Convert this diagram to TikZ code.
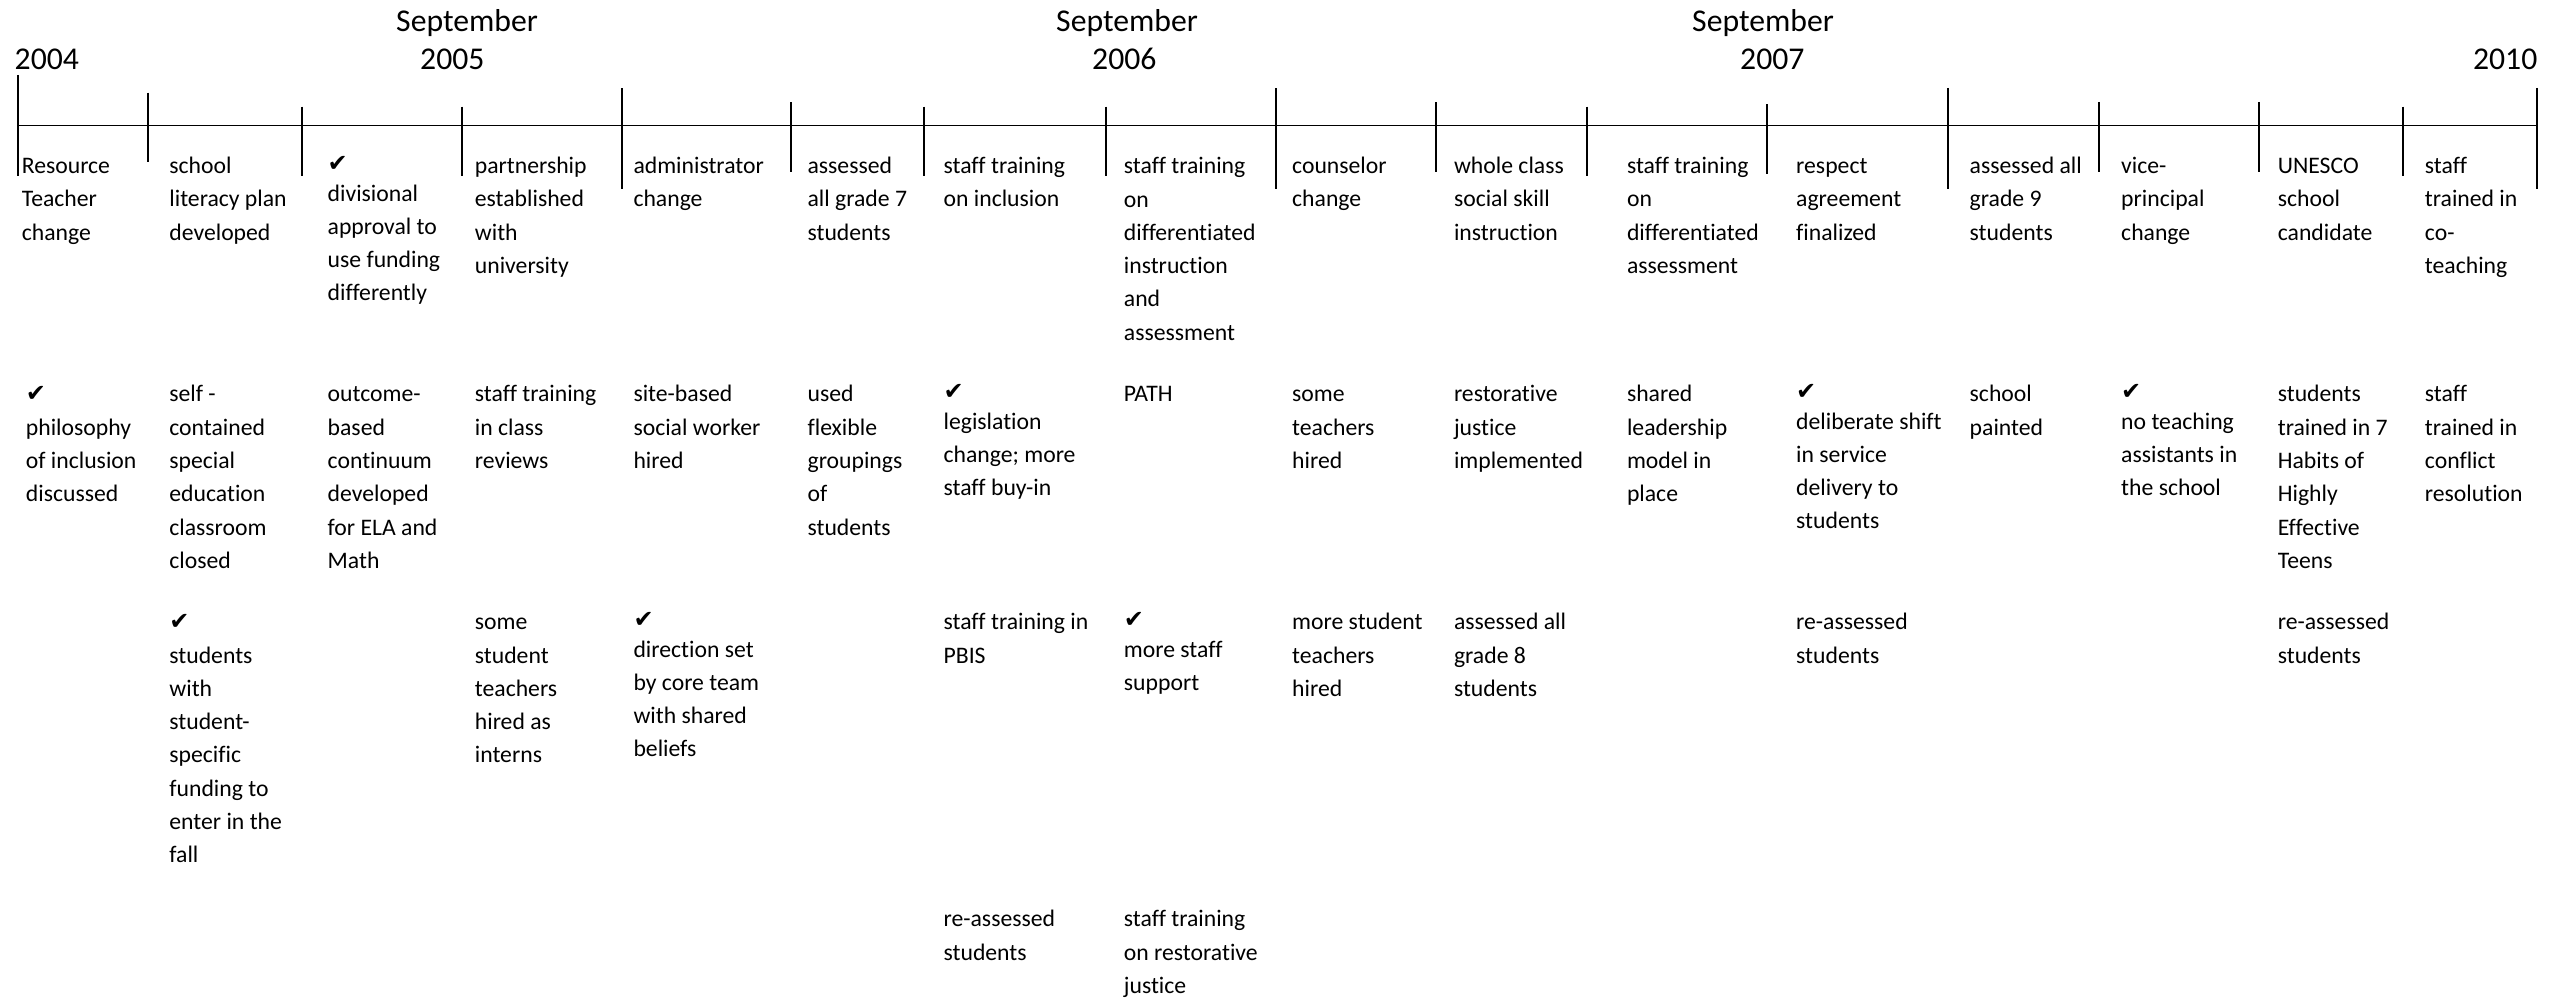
\documentclass[tikz,border=0pt]{standalone}
\usepackage{fontspec}
\setmainfont{Carlito}[Ligatures=NoCommon]
\newfontfamily\ckfont{DejaVu Sans}
\newcommand\evtfont{\fontsize{23.7}{33.3}\selectfont}
\newcommand\yrfont{\fontsize{31.7}{38.5}\selectfont}
\newcommand\tick{{\ckfont\fontsize{24}{33.3}\selectfont ✔}}
\newcommand\ck{\strut\tick\\[-3.5pt]}
\newcommand\ckf{\strut\tick\\}
\begin{document}
\begin{tikzpicture}[x=1pt,y=-1pt,
  evt/.style={anchor=north west,align=left,inner sep=0pt,font=\evtfont,yshift=23.31pt},
  yr/.style={anchor=north west,align=left,inner sep=0pt,font=\yrfont,yshift=26.95pt},
  yrs/.style={anchor=base west,inner sep=0pt,font=\yrfont},
  axis/.style={line width=1.8pt},
  tickline/.style={line width=1.4pt}]
\fill[white] (0,0) rectangle (2569,1000);
\useasboundingbox (0,0) rectangle (2569,1000);
% axis
\coordinate (a0) at (18,125.5);
\coordinate (a1) at (2537,125.5);
\draw[axis] (a0) -- (a1);
\foreach \x/\t/\b in {18/75/176,148/92.7/162.3,302/106.7/176,462/106.7/176,622/88.3/189.3,
  791/102.3/171.7,924/106.7/176,1106/106.7/176,1276/88.3/189.3,1436/102.3/171.7,
  1587/106.7/176,1767/104.3/174,1948/88/189,2099/102/172,2259/102/172,2403/106.7/176,2537/88/189}
  \draw[tickline] (\x,\t) -- (\x,\b);
% year labels
\node[yrs] (y2004) at (14.5,69.5) {2004};
\node[yr] (s2005) at (396,31) {\strut September\\\hspace*{24pt}2005};
\node[yr] (s2006) at (1056,31) {\strut September\\\hspace*{36pt}2006};
\node[yr] (s2007) at (1692,31) {\strut September\\\hspace*{48pt}2007};
\node[yrs,anchor=base east] (y2010) at (2537.5,69.5) {2010};
% row 1
\node[evt] (r1c1) at (21.6,173.5) {\strut Resource\\Teacher\\change};
\node[evt] (r1c2) at (169.2,173.5) {\strut school\\literacy plan\\developed};
\node[evt] (r1c3) at (327.5,171) {\ck divisional\\approval to\\use funding\\differently};
\node[evt] (r1c4) at (474.7,173.5) {\strut partnership\\established\\with\\university};
\node[evt] (r1c5) at (633.3,173.5) {\strut administrator\\change};
\node[evt] (r1c6) at (807.4,173.5) {\strut assessed\\all grade 7\\students};
\node[evt] (r1c7) at (943.4,173.5) {\strut staff training\\on inclusion};
\node[evt] (r1c8) at (1123.7,173.5) {\strut staff training\\on\\differentiated\\instruction\\and\\assessment};
\node[evt] (r1c9) at (1292,173.5) {\strut counselor\\change};
\node[evt] (r1c10) at (1453.8,173.5) {\strut whole class\\social skill\\instruction};
\node[evt] (r1c11) at (1626.8,173.5) {\strut staff training\\on\\differentiated\\assessment};
\node[evt] (r1c12) at (1796,173.5) {\strut respect\\agreement\\finalized};
\node[evt] (r1c13) at (1969.5,173.5) {\strut assessed all\\grade 9\\students};
\node[evt] (r1c14) at (2121,173.5) {\strut vice-\\principal\\change};
\node[evt] (r1c15) at (2277.6,173.5) {\strut UNESCO\\school\\candidate};
\node[evt] (r1c16) at (2424.7,173.5) {\strut staff\\trained in\\co-\\teaching};
% row 2
\node[evt] (r2c1) at (25.7,401.7) {\ckf philosophy\\of inclusion\\discussed};
\node[evt] (r2c2) at (169.2,401.7) {\strut self -\\contained\\special\\education\\classroom\\closed};
\node[evt] (r2c3) at (327.5,401.7) {\strut outcome-\\based\\continuum\\developed\\for ELA and\\Math};
\node[evt] (r2c4) at (474.7,401.7) {\strut staff training\\in class\\reviews};
\node[evt] (r2c5) at (633.3,401.7) {\strut site-based\\social worker\\hired};
\node[evt] (r2c6) at (807.4,401.7) {\strut used\\flexible\\groupings\\of\\students};
\node[evt] (r2c7) at (943.4,399) {\ck legislation\\change; more\\staff buy-in};
\node[evt] (r2c8) at (1123.7,401.7) {\strut PATH};
\node[evt] (r2c9) at (1292,401.7) {\strut some\\teachers\\hired};
\node[evt] (r2c10) at (1453.8,401.7) {\strut restorative\\justice\\implemented};
\node[evt] (r2c11) at (1626.8,401.7) {\strut shared\\leadership\\model in\\place};
\node[evt] (r2c12) at (1796,399) {\ck deliberate shift\\in service\\delivery to\\students};
\node[evt] (r2c13) at (1969.5,401.7) {\strut school\\painted};
\node[evt] (r2c14) at (2121,399) {\ck no teaching\\assistants in\\the school};
\node[evt] (r2c15) at (2277.6,401.7) {\strut students\\trained in 7\\Habits of\\Highly\\Effective\\Teens};
\node[evt] (r2c16) at (2424.7,401.7) {\strut staff\\trained in\\conflict\\resolution};
% row 3
\node[evt] (r3c2) at (169.2,629.5) {\ckf students\\with\\student-\\specific\\funding to\\enter in the\\fall};
\node[evt] (r3c4) at (474.7,629.5) {\strut some\\student\\teachers\\hired as\\interns};
\node[evt] (r3c5) at (633.3,627) {\ck direction set\\by core team\\with shared\\beliefs};
\node[evt] (r3c7) at (943.4,629.5) {\strut staff training in\\PBIS};
\node[evt] (r3c8) at (1123.7,627) {\ck more staff\\support};
\node[evt] (r3c9) at (1292,629.5) {\strut more student\\teachers\\hired};
\node[evt] (r3c10) at (1453.8,629.5) {\strut assessed all\\grade 8\\students};
\node[evt] (r3c12) at (1796,629.5) {\strut re-assessed\\students};
\node[evt] (r3c15) at (2277.6,629.5) {\strut re-assessed\\students};
% row 4
\node[evt] (r4c7) at (943.4,926.5) {\strut re-assessed\\students};
\node[evt] (r4c8) at (1123.7,926.5) {\strut staff training\\on restorative\\justice};
\end{tikzpicture}
\end{document}
